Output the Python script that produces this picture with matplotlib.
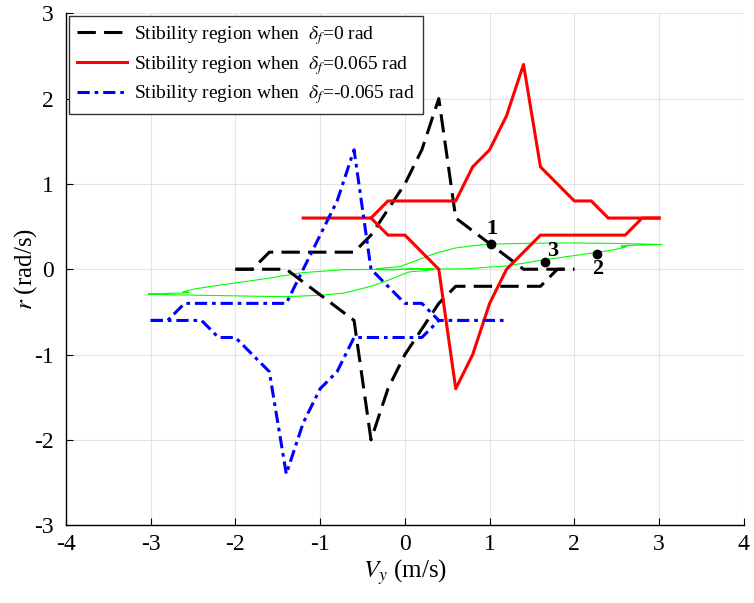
import matplotlib
matplotlib.use("Agg")
import matplotlib.pyplot as plt
from matplotlib.lines import Line2D

plt.rcParams['font.family'] = ['Liberation Serif', 'DejaVu Serif']
plt.rcParams['mathtext.fontset'] = 'stix'
plt.rcParams['axes.unicode_minus'] = False

# ---- stability region boundaries ----
blk_up_x = [-2.0, -1.8, -1.6, -0.6, -0.4, 0.0, 0.2, 0.4, 0.6, 1.4, 2.0]
blk_up_y = [0.0, 0.0, 0.2, 0.2, 0.4, 1.0, 1.4, 2.0, 0.6, 0.0, 0.0]
blk_lo_x = [-2.0, -1.4, -0.6, -0.4, -0.2, 0.0, 0.4, 0.6, 1.6, 1.8, 2.0]
blk_lo_y = [0.0, 0.0, -0.6, -2.0, -1.4, -1.0, -0.4, -0.2, -0.2, 0.0, 0.0]

red_up_x = [-1.2, -0.4, -0.2, 0.6, 0.8, 1.0, 1.2, 1.4, 1.6, 2.0, 2.2, 2.4, 3.0]
red_up_y = [0.6, 0.6, 0.8, 0.8, 1.2, 1.4, 1.8, 2.4, 1.2, 0.8, 0.8, 0.6, 0.6]
red_lo_x = [-0.4, -0.2, 0.0, 0.4, 0.6, 0.8, 1.0, 1.2, 1.6, 2.6, 2.8, 3.0]
red_lo_y = [0.6, 0.4, 0.4, 0.0, -1.4, -1.0, -0.4, 0.0, 0.4, 0.4, 0.6, 0.6]

blu_up_x = [-3.0, -2.8, -2.6, -1.4, -1.0, -0.8, -0.6, -0.4, 0.0, 0.2, 0.4, 1.2]
blu_up_y = [-0.6, -0.6, -0.4, -0.4, 0.4, 0.8, 1.4, 0.0, -0.4, -0.4, -0.6, -0.6]
blu_lo_x = [-3.0, -2.4, -2.2, -2.0, -1.6, -1.4, -1.2, -1.0, -0.8, -0.6, 0.2, 0.4]
blu_lo_y = [-0.6, -0.6, -0.8, -0.8, -1.2, -2.4, -1.8, -1.4, -1.2, -0.8, -0.8, -0.6]

# ---- phase trajectory (green), traced piece by piece along the closed path ----
# right tip and hook
gA_x = [3.03, 2.90, 2.75, 2.62, 2.55, 2.57, 2.62, 2.48]
gA_y = [0.290, 0.287, 0.282, 0.278, 0.272, 0.264, 0.266, 0.230]
# S-shaped line through the centre
gB_x = [2.28, 2.00, 1.64, 1.21, 0.72, 0.30, 0.0, -0.30, -0.72, -1.21, -1.64, -2.00, -2.28, -2.48]
gB_y = [0.200, 0.160, 0.110, 0.040, 0.005, 0.002, 0.0, -0.002, -0.005, -0.040, -0.110, -0.160, -0.200, -0.230]
# left hook and tip
gC_x = [-2.62, -2.57, -2.55, -2.62, -2.75, -2.90, -3.03]
gC_y = [-0.266, -0.264, -0.272, -0.278, -0.282, -0.287, -0.290]
# lower-left edge
gD_x = [-2.90, -2.60, -2.00, -1.42, -1.00, -0.72, -0.48, -0.37, -0.20, -0.10, 0.00, 0.06]
gD_y = [-0.296, -0.302, -0.312, -0.322, -0.305, -0.280, -0.220, -0.190, -0.130, -0.090, -0.050, -0.030]
# small flat loop at the centre
gE_x = [0.20, 0.34, 0.32, 0.15, 0.0, -0.15, -0.32, -0.34, -0.20, -0.06]
gE_y = [-0.020, -0.005, 0.005, 0.008, 0.0, -0.008, -0.005, 0.005, 0.020, 0.030]
# upper-right edge back to the right tip
gF_x = [0.10, 0.37, 0.60, 0.84, 1.02, 1.50, 2.00, 2.50, 2.80, 3.03]
gF_y = [0.090, 0.190, 0.250, 0.280, 0.295, 0.305, 0.308, 0.302, 0.296, 0.290]

# ---- initial points ----
pt_x = [1.02, 2.27, 1.65]
pt_y = [0.30, 0.18, 0.08]
pt_lbl = ['1', '2', '3']

fig = plt.figure(figsize=(7.54, 6.03), dpi=100)
ax = fig.add_axes([0.0875, 0.129, 0.899, 0.849])

lw = 2.2
dash = (0, (6, 2.7))
dashdot = (0, (4, 1.6, 1.2, 1.6))

g_x = gA_x + gB_x + gC_x + gD_x + gE_x + gF_x
g_y = gA_y + gB_y + gC_y + gD_y + gE_y + gF_y
ax.plot(g_x, g_y, color='#00ff00', lw=0.8, zorder=2)

ax.plot(blk_up_x, blk_up_y, color='k', lw=lw, linestyle=dash, zorder=3)
ax.plot(blk_lo_x, blk_lo_y, color='k', lw=lw, linestyle=dash, zorder=3)
ax.plot(red_up_x, red_up_y, color='#ff0000', lw=lw, zorder=3)
ax.plot(red_lo_x, red_lo_y, color='#ff0000', lw=lw, zorder=3)
ax.plot(blu_up_x, blu_up_y, color='#0000ff', lw=lw, linestyle=dashdot, zorder=3)
ax.plot(blu_lo_x, blu_lo_y, color='#0000ff', lw=lw, linestyle=dashdot, zorder=3)

ax.plot(pt_x, pt_y, 'o', color='k', ms=6, zorder=4)
offs = [(0.0, 0.17), (0.0, -0.18), (0.1, 0.13)]
for x, y, s, (dx, dy) in zip(pt_x, pt_y, pt_lbl, offs):
    ax.text(x + dx, y + dy, s, fontsize=16, fontweight='bold', ha='center', va='center', zorder=5)

ax.set_xlim(-4, 4)
ax.set_ylim(-3, 3)
ax.set_xticks(range(-4, 5))
ax.set_yticks(range(-3, 4))
ax.grid(True, color='#e3e3e3', lw=0.8)
ax.set_axisbelow(True)
for s in ['top', 'right']:
    ax.spines[s].set_visible(False)
for s in ['left', 'bottom']:
    ax.spines[s].set_linewidth(1.0)
ax.tick_params(direction='in', labelsize=17, length=5)
ax.tick_params(axis='x', pad=6)
ax.tick_params(axis='y', pad=9)
ax.set_xlabel(r'$V_y$ (m/s)', fontsize=18, labelpad=2)
ax.set_ylabel(r'$r$ (rad/s)', fontsize=18, labelpad=-4)

handles = [
    Line2D([], [], color='k', lw=lw, linestyle=dash),
    Line2D([], [], color='#ff0000', lw=lw),
    Line2D([], [], color='#0000ff', lw=lw, linestyle=dashdot),
]
labels = [
    r'Stibility region when  $\delta_f$=0 rad',
    r'Stibility region when  $\delta_f$=0.065 rad',
    r'Stibility region when  $\delta_f$=-0.065 rad',
]
leg = ax.legend(handles, labels, loc='upper left', fontsize=14, frameon=True,
                fancybox=False, edgecolor='#333333', framealpha=1,
                handlelength=2.6, handletextpad=0.35, borderaxespad=0.15,
                labelspacing=0.35)
leg.get_frame().set_linewidth(1.0)

fig.savefig('out.png', dpi=100)
